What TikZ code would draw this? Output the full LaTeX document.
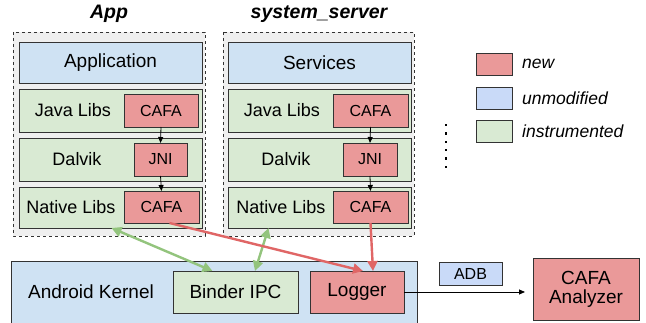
\documentclass[tikz,border=0pt]{standalone}
\usepackage{fontspec}
\setmainfont{Liberation Sans}
\usetikzlibrary{arrows.meta,positioning,calc}
\definecolor{cred}{HTML}{EA9999}
\definecolor{cblue}{HTML}{CFE2F3}
\definecolor{cblueb}{HTML}{C9DAF8}
\definecolor{cgreen}{HTML}{D9EAD3}
\definecolor{cgray}{HTML}{EFEFEF}
\definecolor{agreen}{HTML}{93C47D}
\definecolor{ared}{HTML}{E06666}
\definecolor{bord}{HTML}{333333}
\tikzset{
  bx/.style={draw=bord,line width=0.9pt,inner sep=0pt,outer sep=0pt},
  grp/.style={draw=bord,dashed,line width=0.8pt,fill=cgray},
  big/.style={font=\fontsize{19}{21}\selectfont},
  mid/.style={font=\fontsize{18}{20}\selectfont},
  sml/.style={font=\fontsize{16}{18}\selectfont},
  ttl/.style={font=\fontsize{19.5}{22}\selectfont\bfseries\itshape},
  leg/.style={font=\fontsize{17.5}{20}\selectfont\itshape,anchor=west,inner sep=0pt},
  blk/.style={-{Triangle[length=6pt,width=5pt]},line width=0.8pt,draw=black},
  rarr/.style={-{Triangle[length=10pt,width=10pt]},line width=2.4pt,draw=ared},
  garr/.style={{Triangle[length=10pt,width=10pt]}-{Triangle[length=10pt,width=10pt]},line width=2.4pt,draw=agreen},
}
\newcommand{\bxat}[5]{% name, x1,y1,x2,y2
  \path (#2,#3) coordinate (#1-a) (#4,#5) coordinate (#1-b);}
\begin{document}
\begin{tikzpicture}[x=1pt,y=-1pt]
\useasboundingbox[fill=white] (0,0) rectangle (646,323);
% group boxes
\draw[grp] (13,32) rectangle (205,236);
\draw[grp] (223,32) rectangle (414,236);
\node[ttl] (tapp) at (109,14) {App};
\node[ttl] (tsrv) at (319,14) {system\_server};
% App stack
\node[bx,fill=cblue,minimum width=183pt,minimum height=41pt,big] (appl) at (110.5,62.5) {Application};
\node[bx,fill=cgreen,minimum width=183pt,minimum height=43pt] (ajava) at (110.5,110.5) {};
\node[bx,fill=cgreen,minimum width=183pt,minimum height=43pt] (adal) at (110.5,159.5) {};
\node[bx,fill=cgreen,minimum width=183pt,minimum height=41pt] (anat) at (110.5,207.5) {};
\node[mid] (ajavat) at (73,110.5) {Java Libs};
\node[mid] (adalt) at (77,159.5) {Dalvik};
\node[mid] (anatt) at (71,207.5) {Native Libs};
\node[bx,fill=cred,minimum width=74pt,minimum height=33pt,sml] (acafa1) at (161,110.5) {CAFA};
\node[bx,fill=cred,minimum width=53pt,minimum height=33pt,sml] (ajni) at (160.5,159.5) {JNI};
\node[bx,fill=cred,minimum width=75pt,minimum height=32pt,sml] (acafa2) at (161.5,207) {CAFA};
% Server stack
\node[bx,fill=cblue,minimum width=183pt,minimum height=41pt,big] (serv) at (319.5,62.5) {Services};
\node[bx,fill=cgreen,minimum width=183pt,minimum height=43pt] (sjava) at (319.5,110.5) {};
\node[bx,fill=cgreen,minimum width=183pt,minimum height=43pt] (sdal) at (319.5,159.5) {};
\node[bx,fill=cgreen,minimum width=183pt,minimum height=41pt] (snat) at (319.5,207.5) {};
\node[mid] (sjavat) at (282,110.5) {Java Libs};
\node[mid] (sdalt) at (286,159.5) {Dalvik};
\node[mid] (snatt) at (281,207.5) {Native Libs};
\node[bx,fill=cred,minimum width=75pt,minimum height=33pt,sml] (scafa1) at (370.5,110.5) {CAFA};
\node[bx,fill=cred,minimum width=54pt,minimum height=33pt,sml] (sjni) at (370,159.5) {JNI};
\node[bx,fill=cred,minimum width=75pt,minimum height=32pt,sml] (scafa2) at (370.5,207) {CAFA};
\draw[blk] (acafa1.south) -- (ajni.north);
\draw[blk] (ajni.south) -- (acafa2.north);
\draw[blk] (scafa1.south) -- (sjni.north);
\draw[blk] (sjni.south) -- (scafa2.north);
% Kernel
\node[bx,fill=cblue,minimum width=406pt,minimum height=62pt] (kern) at (214,292) {};
\node[big] (kernt) at (91,292) {Android Kernel};
\node[bx,fill=cgreen,minimum width=125pt,minimum height=42pt,big] (binder) at (235.5,292) {Binder IPC};
\node[bx,fill=cred,minimum width=94pt,minimum height=42pt,big] (logger) at (357,292) {Logger};
\node[bx,fill=cblueb,minimum width=63pt,minimum height=23pt,sml] (adb) at (470.5,273.5) {ADB};
\node[bx,fill=cred,minimum width=106pt,minimum height=62pt,big,align=center] (anal) at (586,289) {CAFA\\[-2pt]Analyzer};
% connectors
\draw[garr] ([xshift=1pt]anat.south) -- ([xshift=-23pt]binder.north);
\draw[garr] ([xshift=-51pt]snat.south) -- ([xshift=19.5pt]binder.north);
\draw[rarr] ([xshift=8pt]acafa2.south) -- ([xshift=6pt]logger.north);
\draw[rarr] (scafa2.south) -- ([xshift=16pt]logger.north);
\draw[blk,shorten >=8pt] (logger.east) -- (logger.east -| anal.west);
% legend
\node[bx,fill=cred,minimum width=36pt,minimum height=22pt] (lnew) at (494,64) {};
\node[bx,fill=cblueb,minimum width=36pt,minimum height=22pt] (lunm) at (494,98) {};
\node[bx,fill=cgreen,minimum width=36pt,minimum height=22pt] (lins) at (494,131) {};
\node[leg] (lnewt) at (522,64) {new};
\node[leg] (lunmt) at (522,98) {unmodified};
\node[leg] (linst) at (522,131) {instrumented};
\foreach \yy in {125,133.4,141.8,150.2,158.6,167}
  \fill[black] (445,\yy-1.2) rectangle (447.4,\yy+1.2);
\end{tikzpicture}
\end{document}
